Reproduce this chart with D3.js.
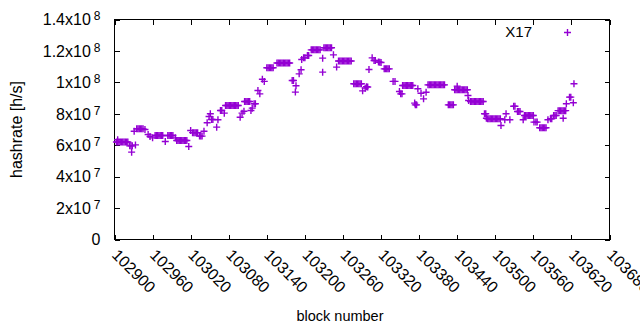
<!DOCTYPE html>
<html>
<head>
<meta charset="utf-8">
<script src="https://cdn.jsdelivr.net/npm/d3@7"></script>
<style>
  body { margin: 0; background: #fff; }
  svg text { font-family: "Liberation Sans", Arial, sans-serif; font-size: 15px; fill: #000; }
</style>
</head>
<body>
<svg id="chart" width="640" height="330"></svg>
<script>
// block numbers of the X17 blocks and their hashrate (in units of 10^6 h/s)
const blocks = [
  102903,102905,102907,102909,102911,102913,102915,102917,102919,102921,102905,
  102924,102926,102928,102927,102931,102933,
  102935,102937,102939,102941,102943,102945,102948,102953,102956,102960,
  102964,102966,102968,102970,102972,102974,102976,102980,
  102984,102986,102988,102990,102992,102996,
  102998,103000,103002,103004,103006,103008,103010,103012,103014,103017,103020,
  103023,103025,103027,103029,103031,103034,103036,103038,103041,
  103046,103049,103051,103053,103055,103061,103063,103067,103069,103073,
  103075,103077,103079,103081,103083,103085,103087,103089,103091,103093,103095,
  103098,103101,103104,
  103105,103107,103109,103111,103113,103115,103117,103120,103122,
  103126,103129,103133,103136,
  103140,103142,103144,103146,103148,103150,
  103156,103158,103160,103162,103164,103166,103168,103170,103172,103174,103176,
  103180,103182,103185,103186,103191,103194,103195,103198,103200,103204,103206,
  103210,103212,103214,103216,103218,103220,103222,103224,
  103228,103228,
  103230,103232,103234,103236,103238,103240,103242,103245,103250,
  103253,103255,103257,103259,103261,103263,103265,103267,103269,103271,103273,
  103277,103279,103281,103283,103285,103287,103289,
  103291,103295,103297,103299,103301,103306,103309,103311,103316,103318,103320,
  103325,103327,103329,103331,103333,103339,103342,103349,103351,103353,
  103354,103356,103358,103360,103362,103364,103366,103368,103370,
  103373,103374,103376,103378,103383,103387,103391,
  103394,103396,103398,103400,103402,103404,103406,103408,103410,103412,103414,103416,103418,103420,
  103426,103428,103430,103432,103434,
  103436,103438,103440,103442,103444,103446,103448,103450,103452,103454,103456,
  103440,103457,103458,
  103461,103463,103465,103467,103469,103471,103473,103475,103477,103479,103481,
  103483,103485,103486,
  103488,103490,103492,103494,103496,103498,103500,103502,103504,103506,103508,
  103509,103515,103517,103523,103529,103531,103535,103537,103539,103544,
  103546,103548,103550,103552,103554,103556,103558,103560,
  103561,103564,103566,
  103570,103572,103574,103576,103578,103580,
  103583,103587,103589,103592,103594,103596,
  103599,103601,103603,103605,103607,103609,103611,
  103607,103612,103617,103619,103623,103624
];
const hashrateM = [
  62,62,62,62,62,62,62,62,62,62,63.5,
  59.6,59.6,59.6,55.6,68.9,60.2,
  70.4,70.4,70.4,70.4,70.4,70.4,70,66.8,65.5,64.7,
  66.2,66.2,66.2,66.2,66.2,66.2,66.2,62.4,
  66.2,66.2,66.2,66.2,66.2,64.7,
  63,63,63,63,63,63,63,63,63,59.2,69.4,
  68,68,68,68,68,65.8,65.8,65.8,68.9,
  74.3,78.3,80,76.4,76.4,71.5,76.2,82.1,82.1,80.4,
  85.3,85.3,85.3,85.3,85.3,85.3,85.3,85.3,85.3,85.3,85.3,
  77.8,80.4,81.6,
  87.8,87.8,87.8,87.8,87.8,82.1,83.6,86.4,86.4,
  94.8,92.7,102,100.6,
  109.3,109.3,109.3,109.3,109.3,109.3,
  112.3,112.3,112.3,112.3,112.3,112.3,112.3,112.3,112.3,112.3,112.3,
  101.2,101.2,93.8,97.8,105.4,108,114.5,115.6,115.6,117.1,117.1,
  120.7,120.7,120.7,120.7,120.7,120.7,120.7,120.7,
  115.4,106.5,
  122,122,122,122,122,122,122,117.5,109.7,
  113.6,113.6,113.6,113.6,113.6,113.6,113.6,113.6,113.6,113.6,113.6,
  99.1,99.1,99.1,99.1,99.1,99.1,99.1,
  94.6,96.3,97.2,97,108.2,115.6,113.9,113.9,113,112.8,112.6,
  108.6,108.6,108.6,108.6,108.6,100.6,100.6,94.2,92.7,92.7,
  98,98,98,98,98,98,98,98,98,
  86.8,85.7,85.7,95.9,93.1,89.5,93.7,
  98.4,98.4,98.4,98.4,98.4,98.4,98.4,98.4,98.4,98.4,98.4,98.4,98.4,98.4,
  85.7,85.7,85.7,85.7,85.7,
  95.3,95.3,95.3,95.3,95.3,95.3,95.3,95.3,95.3,95.3,95.3,
  97.6,91.6,88.5,
  87.8,87.8,87.8,87.8,87.8,87.8,87.8,87.8,87.8,87.8,87.8,
  80,80,77.2,
  76.8,76.8,76.8,76.8,76.8,76.8,76.8,76.8,76.8,76.8,76.8,
  72.5,76.2,80,76.2,84.8,84.8,81.5,81.5,81.5,76.2,
  78.9,78.9,78.9,78.9,78.9,78.9,78.9,78.9,
  74.7,74.7,74.7,
  71.1,71.1,71.1,71.1,71.1,71.1,
  76.2,76.8,76.8,78.9,78.9,78.9,
  82,82,82,82,82,82,82,
  77.2,86.4,90.6,90.6,87,99.1
];

const xTicks = [102900,102960,103020,103080,103140,103200,103260,103320,103380,103440,103500,103560,103620,103680];
const yTicks = [0,2e7,4e7,6e7,8e7,1e8,1.2e8,1.4e8];
const yTickMantissa = ['0','2x10','4x10','6x10','8x10','1x10','1.2x10','1.4x10'];
const yTickExponent = ['','7','7','7','7','8','8','8'];
const seriesName = 'X17';

const color = '#9400d3';
const plotLeft = 114.5, plotRight = 609.5, plotTop = 19.5, plotBottom = 239.5;

const svg = d3.select('#chart');

const x = d3.scaleLinear().domain([102900, 103680]).range([plotLeft, plotRight]);
const y = d3.scaleLinear().domain([0, 1.4e8]).range([plotBottom, plotTop]);

// axes with inward ticks on all four sides
const yAxis = svg.append('g')
    .attr('transform', `translate(${plotLeft},0)`)
    .call(d3.axisLeft(y).tickValues(yTicks).tickSize(-5).tickPadding(14).tickFormat(''));
svg.append('g')
    .attr('transform', `translate(${plotRight},0)`)
    .call(d3.axisRight(y).tickValues(yTicks).tickSize(-5).tickFormat(''));
const xAxis = svg.append('g')
    .attr('transform', `translate(0,${plotBottom})`)
    .call(d3.axisBottom(x).tickValues(xTicks).tickSize(-5).tickFormat(d => d));
svg.append('g')
    .attr('transform', `translate(0,${plotTop})`)
    .call(d3.axisTop(x).tickValues(xTicks).tickSize(-5).tickFormat(''));

svg.selectAll('.domain').remove();
svg.selectAll('.tick line').attr('stroke', '#000').attr('shape-rendering', 'crispEdges');
svg.selectAll('g').attr('font-size', null).attr('font-family', null);

// y tick labels like 1.4x10^8
yAxis.selectAll('.tick text').each(function(d, i) {
    const t = d3.select(this)
        .attr('text-anchor', 'end')
        .attr('dy', '0.33em')
        .style('font-size', '16px');
    t.text(null);
    t.append('tspan').style('font-size', '16px').text(yTickMantissa[i]);
    if (yTickExponent[i]) {
        t.append('tspan').attr('dx', 3).attr('dy', -5).style('font-size', '12px').text(yTickExponent[i]);
    }
});

// rotated x tick labels
xAxis.selectAll('.tick text')
    .attr('y', null)
    .attr('dy', null)
    .attr('text-anchor', 'start')
    .style('font-size', '16px')
    .attr('transform', 'translate(-4,16.5) rotate(45)');

svg.selectAll('.tick text').attr('fill', '#000');

// plot border
svg.append('rect')
    .attr('x', plotLeft).attr('y', plotTop)
    .attr('width', plotRight - plotLeft).attr('height', plotBottom - plotTop)
    .attr('fill', 'none').attr('stroke', '#000').attr('shape-rendering', 'crispEdges');

// axis titles
svg.append('text')
    .attr('x', 340).attr('y', 321)
    .attr('text-anchor', 'middle')
    .style('font-size', '14.5px')
    .text('block number');
svg.append('text')
    .attr('transform', 'translate(21.5,129.5) rotate(-90)')
    .attr('text-anchor', 'middle')
    .style('font-size', '16px')
    .text('hashrate [h/s]');

// points
const plus = 'M-3.5,0H3.5M0,-3.5V3.5';
const points = blocks.map((b, i) => ({ block: b, rate: hashrateM[i] * 1e6 }));
svg.append('g')
    .selectAll('path')
    .data(points)
    .enter()
    .append('path')
    .attr('d', plus)
    .attr('transform', d => `translate(${x(d.block)},${y(d.rate)})`)
    .attr('stroke', color)
    .attr('stroke-width', 1.4)
    .attr('fill', 'none');

// key
svg.append('text')
    .attr('x', 532).attr('y', 37)
    .attr('text-anchor', 'end')
    .text(seriesName);
svg.append('path')
    .attr('d', plus)
    .attr('transform', 'translate(567.5,32.5)')
    .attr('stroke', color)
    .attr('stroke-width', 1.4)
    .attr('fill', 'none');
</script>
</body>
</html>
